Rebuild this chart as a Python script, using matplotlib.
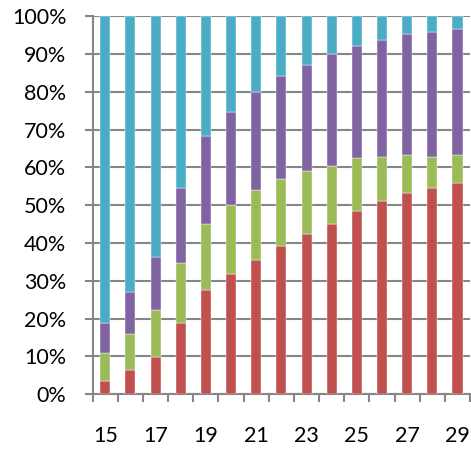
import numpy as np
import matplotlib
matplotlib.use('Agg')
import matplotlib.pyplot as plt
from matplotlib.ticker import PercentFormatter, MultipleLocator

# categories on the x axis
categories = list(range(15, 30))
tick_labels = [str(c) for c in categories]

# stacked shares in percent (bottom to top)
red    = [3.6, 6.5, 9.9, 18.8, 27.5, 31.8, 35.6, 39.2, 42.3, 45.0, 48.5, 51.2, 53.3, 54.6, 55.8]
green  = [7.2, 9.5, 12.4, 15.9, 17.4, 18.2, 18.3, 17.7, 16.6, 15.4, 14.0, 11.6, 9.9, 8.2, 7.4]
purple = [8.1, 11.1, 14.0, 19.8, 23.5, 24.7, 26.1, 27.3, 28.2, 29.6, 29.7, 30.9, 32.0, 33.1, 33.4]
cyan   = [81.1, 72.9, 63.7, 45.5, 31.6, 25.3, 20.0, 15.8, 12.9, 10.0, 7.8, 6.3, 4.8, 4.1, 3.4]

series = [red, green, purple, cyan]
colors = ['#C0504D', '#9BBB59', '#8064A2', '#4BACC6']
grid_col = '#868686'

plt.rcParams['font.family'] = ['Lato', 'DejaVu Sans']

fig = plt.figure(figsize=(4.71, 4.51), dpi=100)
ax = fig.add_axes([0.1968, 0.1257, 0.8012, 0.8388])

x = np.arange(len(categories))
totals = np.sum(series, axis=0)
bottom = np.zeros(len(categories))
for vals, col in zip(series, colors):
    share = np.array(vals) / totals
    ax.bar(x, share, 0.4, bottom=bottom, color=col, zorder=3,
           edgecolor='white', linewidth=0.3)
    bottom += share

ax.set_xlim(-0.5, len(categories) - 0.5)
ax.set_ylim(0, 1)
ax.yaxis.set_major_locator(MultipleLocator(0.1))
ax.yaxis.set_major_formatter(PercentFormatter(1.0, decimals=0))
ax.grid(axis='y', color=grid_col, linewidth=1.5, zorder=0)

# labels on every other category, ticks on the category borders
ax.set_xticks(x[::2])
ax.set_xticklabels(tick_labels[::2])
ax.set_xticks(np.arange(-0.5, len(categories)), minor=True)
ax.tick_params(axis='x', which='major', length=0, pad=23, labelsize=15.5)
ax.tick_params(axis='x', which='minor', length=6, width=1.5, color=grid_col)
ax.tick_params(axis='y', length=6, width=1.5, color=grid_col, pad=13, labelsize=15.5)

for side in ['top', 'right']:
    ax.spines[side].set_visible(False)
for side in ['left', 'bottom']:
    ax.spines[side].set_color(grid_col)
    ax.spines[side].set_linewidth(1.5)

fig.savefig('out.png', dpi=100)
